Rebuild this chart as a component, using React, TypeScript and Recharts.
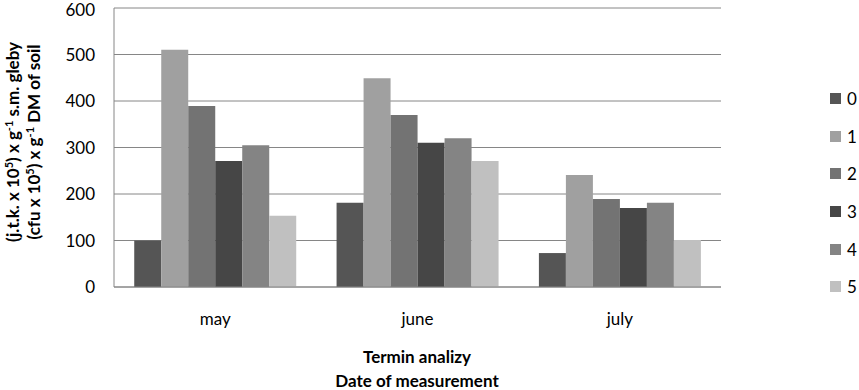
import React from 'react';
import { BarChart, Bar, XAxis, YAxis, CartesianGrid, Legend } from 'recharts';

const months = ['may', 'june', 'july'];
const s0 = [100, 181, 73];
const s1 = [510, 449, 241];
const s2 = [389, 370, 189];
const s3 = [271, 310, 170];
const s4 = [305, 320, 181];
const s5 = [153, 271, 101];
const seriesNames = ['0', '1', '2', '3', '4', '5'];
const seriesColors = ['#555555', '#a0a0a0', '#737373', '#464646', '#848484', '#c0c0c0'];
const yTicks = [0, 100, 200, 300, 400, 500, 600];

const allSeries = [s0, s1, s2, s3, s4, s5];
const data = months.map((m, i) => {
  const row: Record<string, string | number> = { month: m };
  seriesNames.forEach((n, k) => {
    row[n] = allSeries[k][i];
  });
  return row;
});

const FONT = 'Lato, "Open Sans", sans-serif';

function YLabel() {
  const cy = 142;
  return (
    <g fontFamily={FONT} fontWeight="bold" fontSize={17} fill="#000">
      <text x={0} y={0} textAnchor="middle" transform={`translate(19, ${cy}) rotate(-90)`}>
        <tspan>(j.t.k. x 10</tspan>
        <tspan fontSize={11} dy={-6}>5</tspan>
        <tspan dy={6}>) x g</tspan>
        <tspan fontSize={11} dy={-6}>-1</tspan>
        <tspan dy={6}> s.m. gleby</tspan>
      </text>
      <text x={0} y={0} textAnchor="middle" transform={`translate(40, ${cy}) rotate(-90)`}>
        <tspan>(cfu x 10</tspan>
        <tspan fontSize={11} dy={-6}>5</tspan>
        <tspan dy={6}>) x g</tspan>
        <tspan fontSize={11} dy={-6}>-1</tspan>
        <tspan dy={6}> DM of soil</tspan>
      </text>
    </g>
  );
}

function XLabel() {
  return (
    <g fontFamily={FONT} fontWeight="bold" fontSize={17} fill="#000">
      <text x={417} y={363} textAnchor="middle">Termin analizy</text>
      <text x={417} y={387} textAnchor="middle">Date of measurement</text>
    </g>
  );
}

function LegendList(props: any) {
  const payload = props.payload || [];
  return (
    <div style={{ fontFamily: FONT, fontSize: 17, color: '#000' }}>
      {payload.map((p: any) => (
        <div key={p.value} style={{ display: 'flex', alignItems: 'center', height: 37.6 }}>
          <span style={{ display: 'inline-block', width: 11, height: 11, background: p.color, marginRight: 6 }} />
          <span>{p.value}</span>
        </div>
      ))}
    </div>
  );
}

export default function App() {
  return (
    <div style={{ position: 'absolute', left: 0, top: 0, width: 859, height: 390, background: '#fff' }}>
      <BarChart
        width={859}
        height={390}
        data={data}
        margin={{ top: 8, right: 109, bottom: 73, left: 0 }}
        barCategoryGap="10%"
        barGap={0}
      >
        <CartesianGrid vertical={false} stroke="#868686" strokeWidth={1} />
        <XAxis
          dataKey="month"
          stroke="#868686"
          tickLine={false}
          tickSize={0}
          tickMargin={26}
          tick={{ fill: '#000', fontSize: 17, fontFamily: FONT }}
          label={<XLabel />}
        />
        <YAxis
          width={114}
          domain={[0, 600]}
          ticks={yTicks}
          stroke="#868686"
          tickLine={false}
          tickSize={0}
          tickMargin={19}
          tick={{ fill: '#000', fontSize: 17, fontFamily: FONT }}
          label={<YLabel />}
        />
        <Legend
          layout="vertical"
          align="right"
          verticalAlign="top"
          content={<LegendList />}
          wrapperStyle={{ position: 'absolute', left: 830, top: 80, width: 29 }}
        />
        {seriesNames.map((n, k) => (
          <Bar key={n} dataKey={n} fill={seriesColors[k]} isAnimationActive={false} />
        ))}
      </BarChart>
    </div>
  );
}
